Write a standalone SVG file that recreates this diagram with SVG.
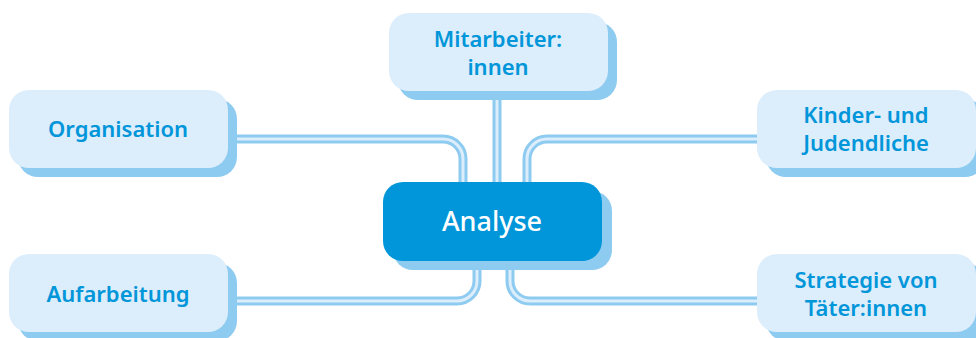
<svg xmlns="http://www.w3.org/2000/svg" width="976" height="338" viewBox="0 0 976 338">
<style>
.wire-o{fill:none;stroke:#8ecbf0;stroke-width:9}
.wire-i{fill:none;stroke:#dcedfb;stroke-width:3}
.shadow{fill:#8ecbf0}
.box{fill:#dcedfb}
.core{fill:#0096d9}
.lbl{font-family:"Noto Sans","Open Sans",sans-serif;font-size:22px;font-weight:600;fill:#0096d9;text-anchor:middle}
.core-lbl{font-family:"Noto Sans","Open Sans",sans-serif;font-size:27px;font-weight:500;fill:#ffffff;text-anchor:middle}
</style>
<defs>
<path id="c1" d="M 228 139 H 443 A 20 20 0 0 1 463 159 V 182"/>
<path id="c2" d="M 497 91 V 182"/>
<path id="c3" d="M 757 139 H 547 A 20 20 0 0 0 527 159 V 182"/>
<path id="c4" d="M 228 301 H 457 A 20 20 0 0 0 477 281 V 261"/>
<path id="c5" d="M 757 301 H 530 A 20 20 0 0 1 510 281 V 261"/>
</defs>
<rect width="976" height="338" fill="#ffffff"/>
<g id="connectors">
<use href="#c1" class="wire-o"/><use href="#c1" class="wire-i"/>
<use href="#c2" class="wire-o"/><use href="#c2" class="wire-i"/>
<use href="#c3" class="wire-o"/><use href="#c3" class="wire-i"/>
<use href="#c4" class="wire-o"/><use href="#c4" class="wire-i"/>
<use href="#c5" class="wire-o"/><use href="#c5" class="wire-i"/>
</g>
<g id="mitarbeiter">
<rect class="shadow" x="398" y="22" width="219" height="78" rx="20"/>
<rect class="box" x="389" y="13" width="219" height="78" rx="20"/>
<text class="lbl" x="498" y="47">Mitarbeiter:</text>
<text class="lbl" x="498" y="75">innen</text>
</g>
<g id="organisation">
<rect class="shadow" x="18" y="99" width="219" height="78" rx="20"/>
<rect class="box" x="9" y="90" width="219" height="78" rx="20"/>
<text class="lbl" x="118" y="137">Organisation</text>
</g>
<g id="kinder">
<rect class="shadow" x="766" y="99" width="219" height="78" rx="20"/>
<rect class="box" x="757" y="90" width="219" height="78" rx="20"/>
<text class="lbl" x="866" y="123">Kinder- und</text>
<text class="lbl" x="866" y="151">Judendliche</text>
</g>
<g id="analyse">
<rect class="shadow" x="393" y="191" width="219" height="79" rx="20"/>
<rect class="core" x="383" y="182" width="219" height="79" rx="20"/>
<text class="core-lbl" x="492" y="231">Analyse</text>
</g>
<g id="aufarbeitung">
<rect class="shadow" x="18" y="263" width="219" height="78" rx="20"/>
<rect class="box" x="9" y="254" width="219" height="78" rx="20"/>
<text class="lbl" x="118" y="302">Aufarbeitung</text>
</g>
<g id="strategie">
<rect class="shadow" x="766" y="263" width="219" height="78" rx="20"/>
<rect class="box" x="757" y="254" width="219" height="78" rx="20"/>
<text class="lbl" x="866" y="288">Strategie von</text>
<text class="lbl" x="866" y="316">Täter:innen</text>
</g>
</svg>
